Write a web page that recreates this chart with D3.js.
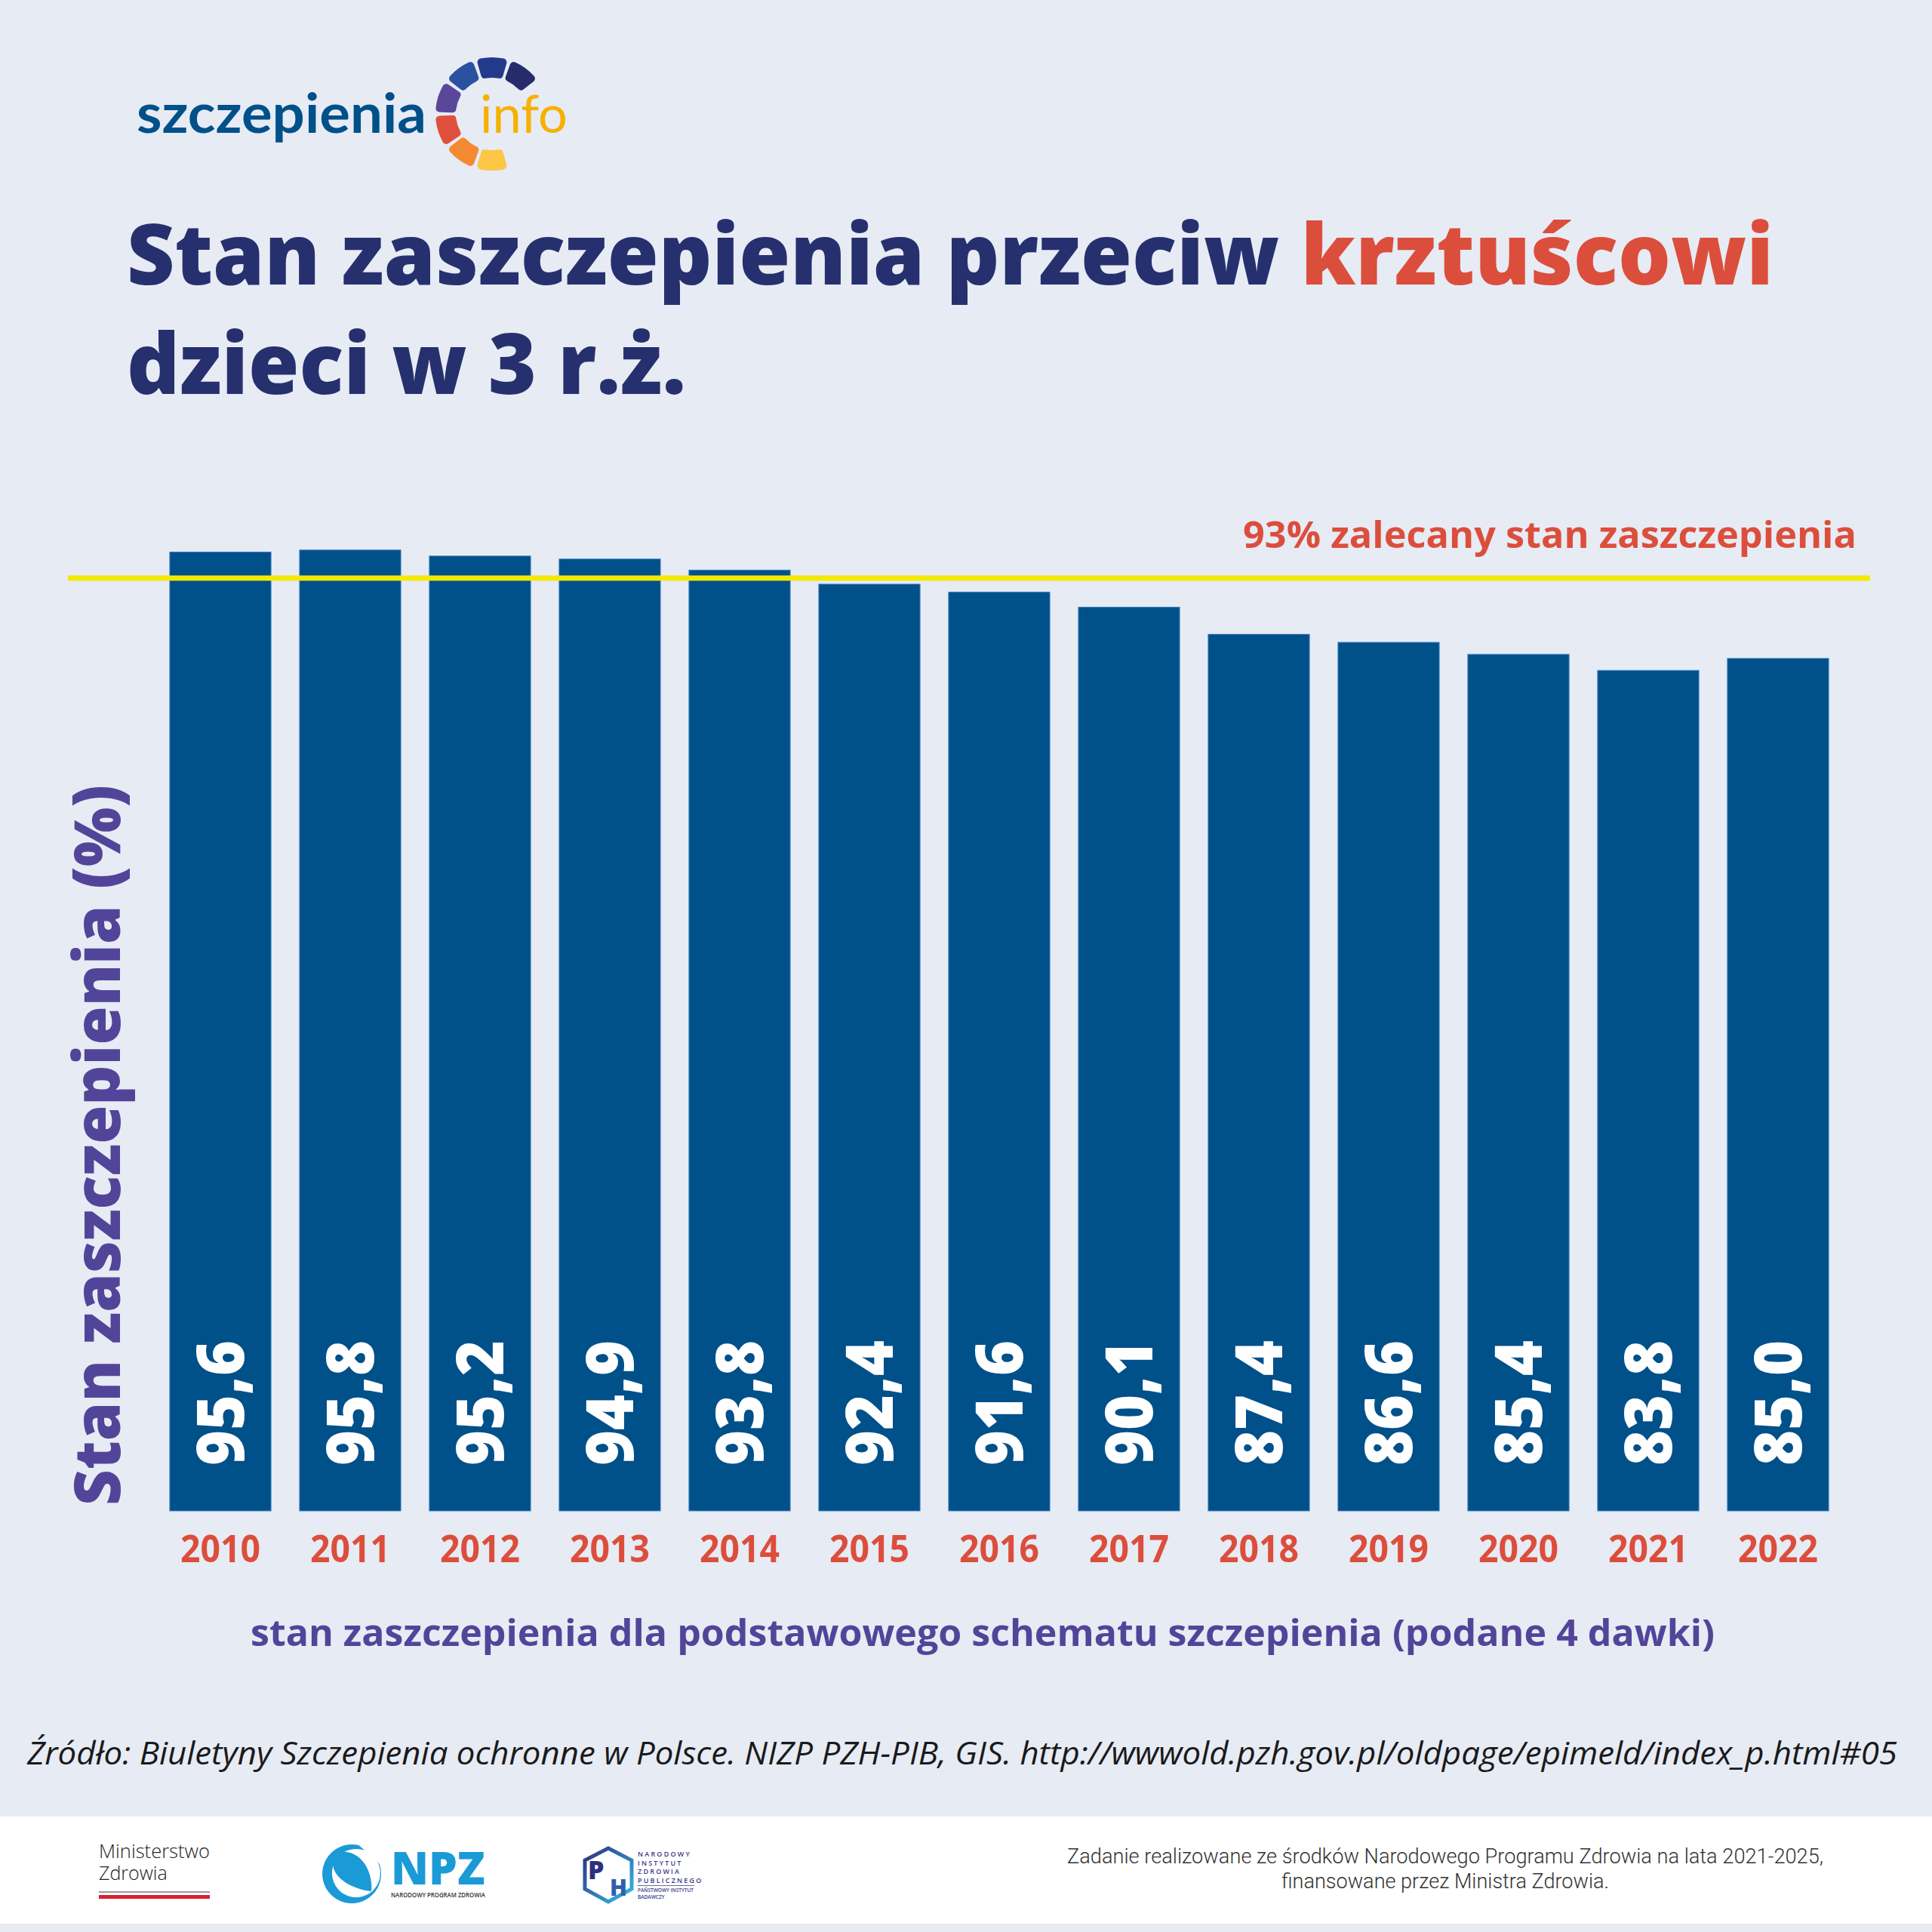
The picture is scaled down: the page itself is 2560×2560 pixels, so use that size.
<!DOCTYPE html>
<html>
<head>
<meta charset="utf-8">
<script src="https://cdn.jsdelivr.net/npm/d3@7"></script>
<style>
  body { margin: 0; background: #e7ebf4; }
  svg { display: block; }
</style>
</head>
<body>
<svg id="chart"></svg>
<script>
// dane
const years = ['2010', '2011', '2012', '2013', '2014', '2015', '2016', '2017', '2018', '2019', '2020', '2021', '2022'];
const coverage = [95.6, 95.8, 95.2, 94.9, 93.8, 92.4, 91.6, 90.1, 87.4, 86.6, 85.4, 83.8, 85.0];
const recommended = 93;

const colors = {
    bg: '#e7ebf4',
    bar: '#00508a',
    navy: '#27306e',
    red: '#dc4e3c',
    purple: '#524599',
    yellow: '#f2ea00',
    logoBlue: '#00508a',
    logoYellow: '#f7b000'
};

// segmenty logo (kąt środka w stopniach, kolor)
const ringAngles = [-36, 0, 36, -72, -108, -144, 180];
const ringColors = ['#2b51a1', '#22398c', '#252b6b', '#5a479a', '#e04f3b', '#f38a32', '#fdc647'];

const W = 2560, H = 2560;
const svg = d3.select('#chart').attr('width', W).attr('height', H);

svg.append('rect').attr('width', W).attr('height', H).attr('fill', colors.bg);

// dopasowanie szerokości tekstu
const fit = (sel, w) => {
    sel.each(function () {
        const len = this.getComputedTextLength();
        if (Math.abs(len - w) > 1) {
            d3.select(this).attr('textLength', w).attr('lengthAdjust', 'spacingAndGlyphs');
        }
    });
};

// ---- logo szczepienia.info
const logo = svg.append('g').attr('class', 'logo');
logo.append('text')
    .attr('x', 181).attr('y', 176)
    .attr('font-family', 'Lato, "Open Sans", sans-serif')
    .attr('font-weight', 700)
    .attr('font-size', 72)
    .attr('fill', colors.logoBlue)
    .text('szczepienia')
    .call(fit, 384);

const arc = d3.arc().innerRadius(48).outerRadius(75).cornerRadius(5);
logo.append('g').attr('transform', 'translate(652,151)')
    .selectAll('path')
    .data(ringAngles)
    .join('path')
    .attr('d', a => arc({startAngle: (a - 16) * Math.PI / 180, endAngle: (a + 16) * Math.PI / 180}))
    .attr('fill', (a, i) => ringColors[i]);

logo.append('text')
    .attr('x', 636).attr('y', 176)
    .attr('font-family', 'Lato, "Open Sans", sans-serif')
    .attr('font-weight', 400)
    .attr('font-size', 70)
    .attr('fill', colors.logoYellow)
    .text('info')
    .call(fit, 116);

// ---- tytuł
const title1 = svg.append('text')
    .attr('x', 168).attr('y', 377)
    .attr('font-family', '"Open Sans", sans-serif')
    .attr('font-weight', 800)
    .attr('font-size', 112);
title1.append('tspan').attr('fill', colors.navy).text('Stan zaszczepienia przeciw ');
title1.append('tspan').attr('fill', colors.red).text('krztuścowi');
title1.call(fit, 2182);

svg.append('text')
    .attr('x', 168).attr('y', 522)
    .attr('font-family', '"Open Sans", sans-serif')
    .attr('font-weight', 800)
    .attr('font-size', 112)
    .attr('fill', colors.navy)
    .text('dzieci w 3 r.ż.')
    .call(fit, 741);

// ---- skale
const x = d3.scaleBand()
    .domain(years)
    .range([206, 2442])
    .paddingInner(0.22)
    .paddingOuter(0.11);

const y = d3.scaleLinear()
    .domain([0, 100])
    .range([2002, 673]);

// słupki
const bars = svg.append('g').attr('class', 'bars')
    .selectAll('rect')
    .data(coverage)
    .join('rect')
    .attr('x', (d, i) => x(years[i]))
    .attr('y', d => y(d))
    .attr('width', x.bandwidth())
    .attr('height', d => y(0) - y(d))
    .attr('fill', colors.bar)
    .attr('stroke', '#3f7fc0')
    .attr('stroke-width', 1);

// wartości na słupkach (pionowo)
svg.append('g').attr('class', 'values')
    .selectAll('text')
    .data(coverage)
    .join('text')
    .attr('transform', (d, i) => `translate(${x(years[i]) + x.bandwidth() / 2},1942) rotate(-90)`)
    .attr('dy', '0.36em')
    .attr('font-family', '"Open Sans", sans-serif')
    .attr('font-weight', 800)
    .attr('font-size', 87)
    .attr('fill', '#ffffff')
    .text(d => d.toFixed(1).replace('.', ','))
    .call(fit, 166);

// linia 93%
svg.append('line')
    .attr('x1', 90).attr('x2', 2478)
    .attr('y1', y(recommended)).attr('y2', y(recommended))
    .attr('stroke', colors.yellow)
    .attr('stroke-width', 7);

svg.append('text')
    .attr('x', 1647).attr('y', 726)
    .attr('font-family', '"Open Sans", sans-serif')
    .attr('font-weight', 700)
    .attr('font-size', 49)
    .attr('fill', colors.red)
    .text(recommended + '% zalecany stan zaszczepienia')
    .call(fit, 813);

// oś X - lata
const xAxis = svg.append('g')
    .attr('transform', `translate(0,${y(0)})`)
    .call(d3.axisBottom(x).tickSize(0).tickPadding(68));
xAxis.select('.domain').remove();
xAxis.selectAll('text')
    .attr('font-family', '"Open Sans", sans-serif')
    .attr('font-weight', 700)
    .attr('font-size', 50)
    .attr('fill', colors.red)
    .attr('dy', 0)
    .call(fit, 106);

// tytuł osi Y
svg.append('text')
    .attr('transform', 'translate(159,1995) rotate(-90)')
    .attr('font-family', '"Open Sans", sans-serif')
    .attr('font-weight', 800)
    .attr('font-size', 85)
    .attr('fill', colors.purple)
    .text('Stan zaszczepienia (%)')
    .call(fit, 955);

// podpis osi X
svg.append('text')
    .attr('x', 332).attr('y', 2181)
    .attr('font-family', '"Open Sans", sans-serif')
    .attr('font-weight', 700)
    .attr('font-size', 48)
    .attr('fill', colors.purple)
    .text('stan zaszczepienia dla podstawowego schematu szczepienia (podane 4 dawki)')
    .call(fit, 1940);

// źródło
svg.append('text')
    .attr('x', 36).attr('y', 2338)
    .attr('font-family', '"Open Sans", sans-serif')
    .attr('font-style', 'italic')
    .attr('font-size', 42)
    .attr('fill', '#1a1a1a')
    .text('Źródło: Biuletyny Szczepienia ochronne w Polsce. NIZP PZH-PIB, GIS. http://wwwold.pzh.gov.pl/oldpage/epimeld/index_p.html#05')
    .call(fit, 2478);

// ---- stopka
const foot = svg.append('g').attr('class', 'footer');
foot.append('rect').attr('x', 0).attr('y', 2407).attr('width', W).attr('height', 142).attr('fill', '#ffffff');

// Ministerstwo Zdrowia
foot.append('text').attr('x', 131).attr('y', 2462)
    .attr('font-family', '"Open Sans", sans-serif').attr('font-weight', 300).attr('font-size', 25)
    .attr('fill', '#222').text('Ministerstwo').call(fit, 147);
foot.append('text').attr('x', 131).attr('y', 2491)
    .attr('font-family', '"Open Sans", sans-serif').attr('font-weight', 300).attr('font-size', 25)
    .attr('fill', '#222').text('Zdrowia');
foot.append('rect').attr('x', 131).attr('y', 2506).attr('width', 147).attr('height', 2).attr('fill', '#9a9a9a');
foot.append('rect').attr('x', 131).attr('y', 2511).attr('width', 147).attr('height', 5).attr('fill', '#dc1e35');

// NPZ
const npzBlue = '#1b9ad8';
const npz = foot.append('g');
npz.append('path')
    .attr('fill-rule', 'evenodd')
    .attr('fill', npzBlue)
    .attr('d', 'M466,2444 a39,39 0 1,0 0.1,0 Z M472,2450 a32,32 0 1,1 -0.1,0 Z');
npz.append('path')
    .attr('fill', '#ffffff')
    .attr('d', 'M470,2440 L512,2440 L512,2478 Z');
npz.append('path')
    .attr('fill', npzBlue)
    .attr('d', 'M492,2506 C470,2504 441,2490 441,2469 C441,2456 454,2451 467,2456 C486,2464 494,2488 492,2506 Z');
npz.append('text').attr('x', 518).attr('y', 2497)
    .attr('font-family', '"Open Sans", sans-serif').attr('font-weight', 800).attr('font-size', 60)
    .attr('fill', npzBlue).text('NPZ').call(fit, 125);
npz.append('text').attr('x', 518).attr('y', 2514)
    .attr('font-family', '"Open Sans", sans-serif').attr('font-weight', 600).attr('font-size', 8)
    .attr('fill', '#333').text('NARODOWY PROGRAM ZDROWIA').call(fit, 125);

// NIZP PZH-PIB
const grad = svg.append('defs').append('linearGradient')
    .attr('id', 'pzhGrad').attr('x1', '0%').attr('y1', '0%').attr('x2', '100%').attr('y2', '100%');
grad.append('stop').attr('offset', '0%').attr('stop-color', '#2d2f80');
grad.append('stop').attr('offset', '100%').attr('stop-color', '#35bde6');
const pzh = foot.append('g');
pzh.append('path')
    .attr('d', 'M806,2449 L837,2465 L837,2503 L806,2520 L775,2503 L775,2465 Z')
    .attr('fill', 'none').attr('stroke', 'url(#pzhGrad)').attr('stroke-width', 5);
pzh.append('text').attr('x', 779).attr('y', 2490)
    .attr('font-family', '"Open Sans", sans-serif').attr('font-weight', 800).attr('font-size', 34)
    .attr('fill', '#2d2f80').text('P');
pzh.append('text').attr('x', 808).attr('y', 2512)
    .attr('font-family', '"Open Sans", sans-serif').attr('font-weight', 800).attr('font-size', 30)
    .attr('fill', '#2f5fb0').text('H');
const pzhLines = ['NARODOWY', 'INSTYTUT', 'ZDROWIA', 'PUBLICZNEGO'];
pzh.selectAll('text.nm')
    .data(pzhLines)
    .join('text')
    .attr('class', 'nm')
    .attr('x', 845)
    .attr('y', (d, i) => 2460 + i * 11.5)
    .attr('font-family', '"Open Sans", sans-serif').attr('font-weight', 600).attr('font-size', 9)
    .attr('letter-spacing', 2.2)
    .attr('fill', '#3b3a8a').text(d => d);
pzh.append('rect').attr('x', 845).attr('y', 2498).attr('width', 75).attr('height', 1).attr('fill', '#6a6aaa');
pzh.append('text').attr('x', 845).attr('y', 2507)
    .attr('font-family', '"Open Sans", sans-serif').attr('font-weight', 600).attr('font-size', 6.5)
    .attr('fill', '#3b3a8a').text('PAŃSTWOWY INSTYTUT');
pzh.append('text').attr('x', 845).attr('y', 2516)
    .attr('font-family', '"Open Sans", sans-serif').attr('font-weight', 600).attr('font-size', 6.5)
    .attr('fill', '#3b3a8a').text('BADAWCZY');

// tekst finansowania
foot.append('text').attr('x', 1414).attr('y', 2469)
    .attr('font-family', 'Roboto, sans-serif').attr('font-weight', 300).attr('font-size', 27)
    .attr('fill', '#333').text('Zadanie realizowane ze środków Narodowego Programu Zdrowia na lata 2021-2025,')
    .call(fit, 1002);
foot.append('text').attr('x', 1698).attr('y', 2502)
    .attr('font-family', 'Roboto, sans-serif').attr('font-weight', 300).attr('font-size', 27)
    .attr('fill', '#333').text('finansowane przez Ministra Zdrowia.')
    .call(fit, 434);
</script>
</body>
</html>
